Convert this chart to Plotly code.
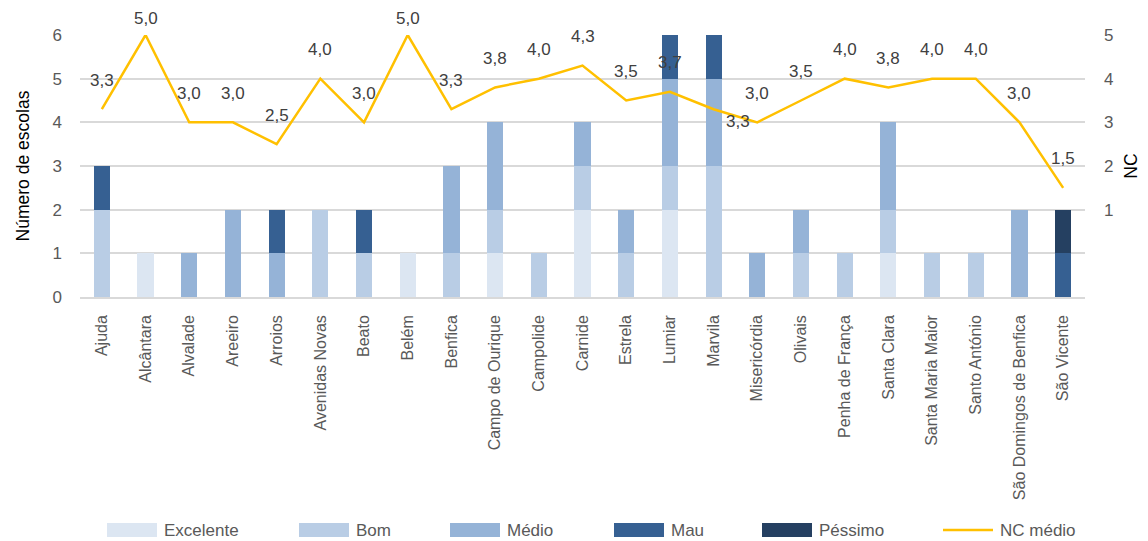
import plotly.graph_objects as go

freguesias = ["Ajuda", "Alcântara", "Alvalade", "Areeiro", "Arroios", "Avenidas Novas",
              "Beato", "Belém", "Benfica", "Campo de Ourique", "Campolide", "Carnide",
              "Estrela", "Lumiar", "Marvila", "Misericórdia", "Olivais", "Penha de França",
              "Santa Clara", "Santa Maria Maior", "Santo António", "São Domingos de Benfica",
              "São Vicente"]

excelente = [0, 1, 0, 0, 0, 0, 0, 1, 0, 1, 0, 2, 0, 2, 0, 0, 0, 0, 1, 0, 0, 0, 0]
bom       = [2, 0, 0, 0, 0, 2, 1, 0, 1, 1, 1, 1, 1, 1, 3, 0, 1, 1, 1, 1, 1, 0, 0]
medio     = [0, 0, 1, 2, 1, 0, 0, 0, 2, 2, 0, 1, 1, 2, 2, 1, 1, 0, 2, 0, 0, 2, 0]
mau       = [1, 0, 0, 0, 1, 0, 1, 0, 0, 0, 0, 0, 0, 1, 1, 0, 0, 0, 0, 0, 0, 0, 1]
pessimo   = [0, 0, 0, 0, 0, 0, 0, 0, 0, 0, 0, 0, 0, 0, 0, 0, 0, 0, 0, 0, 0, 0, 1]

nc_medio = [3.3, 5.0, 3.0, 3.0, 2.5, 4.0, 3.0, 5.0, 3.3, 3.8, 4.0, 4.3, 3.5, 3.7,
            3.3, 3.0, 3.5, 4.0, 3.8, 4.0, 4.0, 3.0, 1.5]

FONT = "Liberation Sans, Arial, sans-serif"
GREY = "#595959"
LINE_COLOR = "#FFC000"

series = [
    ("Excelente", excelente, "#DCE6F2"),
    ("Bom", bom, "#B9CDE5"),
    ("Médio", medio, "#95B3D7"),
    ("Mau", mau, "#366092"),
    ("Péssimo", pessimo, "#254061"),
]

fig = go.Figure()
for name, vals, color in series:
    fig.add_trace(go.Bar(
        name=name, x=freguesias, y=vals, marker=dict(color=color, line=dict(width=0)),
        yaxis="y", showlegend=False,
    ))

fig.add_trace(go.Scatter(
    name="NC médio", x=freguesias, y=nc_medio, mode="lines",
    line=dict(color=LINE_COLOR, width=2.5), yaxis="y2", showlegend=False,
))

# value labels for the NC line
for name, v in zip(freguesias, nc_medio):
    label = f"{v:.1f}".replace(".", ",")
    if name == "Marvila":
        fig.add_annotation(x=name, y=v, xref="x", yref="y2", text=label, showarrow=False,
                           xshift=24, yshift=-12, font=dict(family=FONT, size=17, color="#404040"))
    else:
        shift = 17 if v >= 4.9 else 29
        fig.add_annotation(x=name, y=v, xref="x", yref="y2", text=label, showarrow=False,
                           yshift=shift, font=dict(family=FONT, size=17, color="#404040"))

# legend row drawn below the category labels (paper x in pixels of the page)
W, H = 1148, 541
ML, MR, MT, MB = 80, 63, 35, 244
PW, PH = W - ML - MR, H - MT - MB


def px_x(px):
    return (px - ML) / PW


def px_y(py):
    return (H - MB - py) / PH


legend_left = [107, 299, 450, 614, 762]
LEG_Y = 530
for (name, _, color), left in zip(series, legend_left):
    fig.add_shape(type="rect", xref="paper", yref="paper",
                  x0=px_x(left), x1=px_x(left + 50), y0=px_y(LEG_Y + 7), y1=px_y(LEG_Y - 7),
                  fillcolor=color, line=dict(width=0))
    fig.add_annotation(xref="paper", yref="paper", x=px_x(left + 55), y=px_y(LEG_Y),
                       xanchor="left", yanchor="middle", text=name, showarrow=False,
                       font=dict(family=FONT, size=17, color=GREY))
fig.add_shape(type="line", xref="paper", yref="paper",
              x0=px_x(943), x1=px_x(993), y0=px_y(LEG_Y), y1=px_y(LEG_Y),
              line=dict(color=LINE_COLOR, width=2.5))
fig.add_annotation(xref="paper", yref="paper", x=px_x(998), y=px_y(LEG_Y),
                   xanchor="left", yanchor="middle", text="NC médio", showarrow=False,
                   font=dict(family=FONT, size=17, color=GREY))

fig.update_layout(
    width=W, height=H,
    margin=dict(l=ML, r=MR, t=MT, b=MB, autoexpand=False),
    barmode="stack", bargap=0.63,
    plot_bgcolor="white", paper_bgcolor="white",
    font=dict(family=FONT, size=16, color=GREY),
    showlegend=False,
    xaxis=dict(tickangle=-90, showgrid=False, showline=True, linecolor="#D9D9D9",
               linewidth=1.5, ticks="", automargin=False, ticklabelstandoff=10,
               tickfont=dict(family=FONT, size=16, color=GREY)),
    yaxis=dict(range=[0, 6], tickvals=[0, 1, 2, 3, 4, 5, 6], showgrid=True,
               gridcolor="#D9D9D9", gridwidth=1.5, zeroline=False, automargin=False,
               tickfont=dict(family=FONT, size=17, color=GREY), ticklabelstandoff=17,
               title=dict(text="Número de escolas", font=dict(family=FONT, size=17.5, color="black"),
                          standoff=18)),
    yaxis2=dict(range=[-1, 5], tickvals=[1, 2, 3, 4, 5], overlaying="y", side="right",
                showgrid=False, zeroline=False, ticklabelstandoff=18, automargin=False,
                tickfont=dict(family=FONT, size=17, color=GREY),
                title=dict(text="NC", font=dict(family=FONT, size=17.5, color="black"),
                           standoff=12)),
)

fig.write_html("out.html")
